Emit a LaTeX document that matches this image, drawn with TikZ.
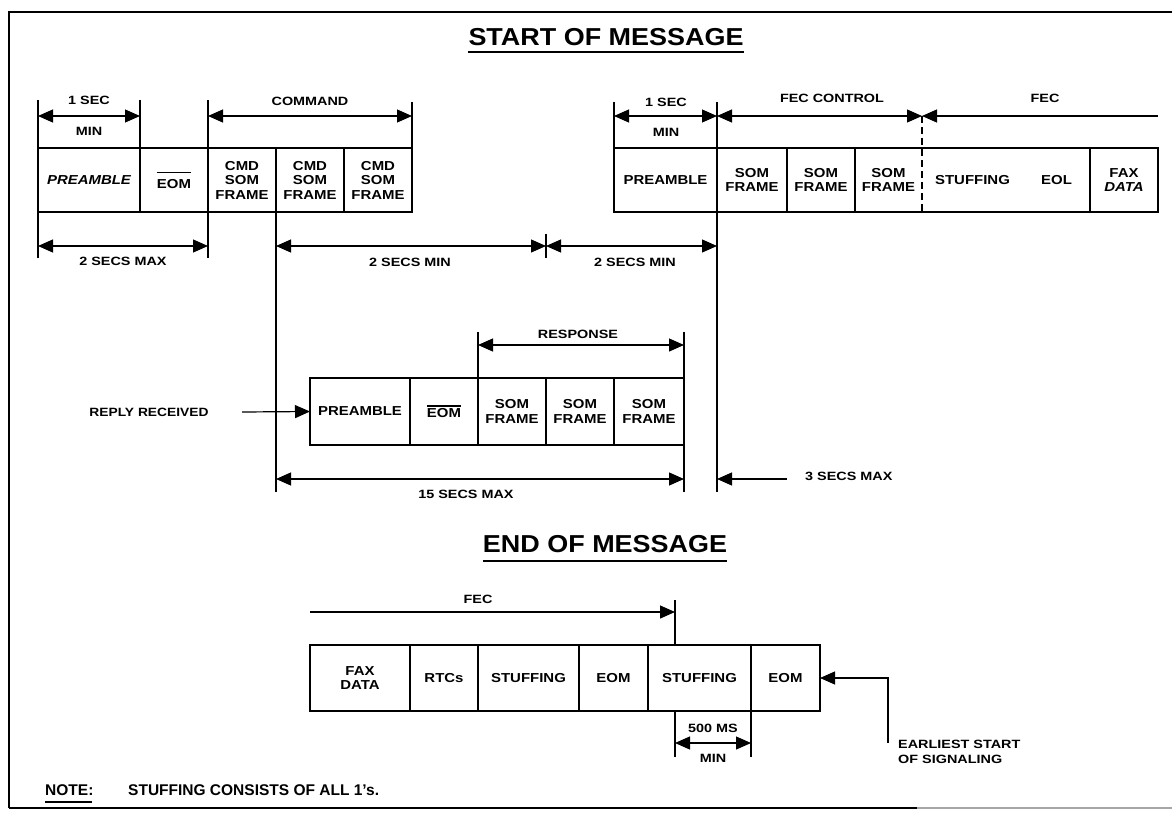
\documentclass[tikz,border=0pt]{standalone}
\usepackage{fontspec}
\setmainfont{Liberation Sans}
\newfontfamily\labf[FakeStretch=1.2]{Liberation Sans}
\newfontfamily\cellf[FakeStretch=1.15]{Liberation Sans}
\newfontfamily\titf[FakeStretch=1.1]{Liberation Sans}
\usetikzlibrary{arrows.meta,calc}
\newcommand\eombar[1]{\leavevmode\vbox{\hrule height 1.2pt\kern#1\hbox{EOM}}}
\begin{document}
\begin{tikzpicture}[x=1pt,y=-1pt,
 >={Triangle[length=15pt,width=13pt]},
 dim/.style={line width=1.2pt,<->},
 ln/.style={line width=1.2pt},
 box/.style={line width=1.4pt},
 cell/.style={inner sep=0pt, outer sep=0pt, anchor=north west, align=center, font=\cellf\bfseries\fontsize{13}{14.5}\selectfont},
 lbl/.style={inner sep=0pt, font=\labf\bfseries\fontsize{12}{14}\selectfont},
 titlestyle/.style={inner sep=0pt, font=\titf\bfseries\fontsize{24.5}{28}\selectfont},
]
\useasboundingbox (0,0) rectangle (1172,816);
% frame
\draw[line width=2.5pt] (9,808) -- (9,12) -- (1172,12);
\draw[line width=2.5pt] (9,808) -- (917,808);
\draw[line width=1.5pt, black!35] (917,808) -- (1172,808);

% titles
\node[titlestyle, anchor=base] (t1) at (606,46) {START OF MESSAGE};
\draw[line width=1.6pt] ([yshift=-6pt]t1.base west) -- ([yshift=-6pt]t1.base east);
\node[titlestyle, anchor=base] (t2) at (605,552) {END OF MESSAGE};
\draw[line width=1.6pt] ([yshift=-9pt]t2.base west) -- ([yshift=-9pt]t2.base east);

% level coordinates
\coordinate (yT) at (0,100);
\coordinate (yT2) at (0,102);
\coordinate (yA) at (0,116);
\coordinate (yB) at (0,246);
\coordinate (yBt) at (0,234);
\coordinate (yBe) at (0,258);
\coordinate (yE) at (0,492);
\coordinate (yRt) at (0,332);
\coordinate (yR) at (0,345);
\coordinate (yF) at (0,479);
\coordinate (yGt) at (0,600);
\coordinate (yG) at (0,612);
\coordinate (yH) at (0,743);
\coordinate (yHe) at (0,757);

% ---- row A (top left)
\node[cell, minimum width=102pt, minimum height=64pt] (a1) at (38,148) {\itshape PREAMBLE};
\node[cell, minimum width=68pt, minimum height=64pt] (a2) at (140,148) {\eombar{6pt}};
\node[cell, minimum width=68pt, minimum height=64pt] (a3) at (208,148) {CMD\\SOM\\FRAME};
\node[cell, minimum width=68pt, minimum height=64pt] (a4) at (276,148) {CMD\\SOM\\FRAME};
\node[cell, minimum width=68pt, minimum height=64pt] (a5) at (344,148) {CMD\\SOM\\FRAME};
\draw[box] (a1.north west) rectangle (a5.south east);
\foreach \n in {a1,a2,a3,a4} \draw[box] (\n.north east) -- (\n.south east);

% ---- row B (top right)
\node[cell, minimum width=103pt, minimum height=64pt] (b1) at (614,148) {PREAMBLE};
\node[cell, minimum width=70pt, minimum height=64pt] (b2) at (717,148) {SOM\\FRAME};
\node[cell, minimum width=68pt, minimum height=64pt] (b3) at (787,148) {SOM\\FRAME};
\node[cell, minimum width=67pt, minimum height=64pt] (b4) at (855,148) {SOM\\FRAME};
\node[cell, minimum width=101pt, minimum height=64pt] (b5) at (922,148) {STUFFING};
\node[cell, minimum width=67pt, minimum height=64pt] (b6) at (1023,148) {EOL};
\node[cell, minimum width=68pt, minimum height=64pt] (b7) at (1090,148) {FAX\\\itshape DATA};
\draw[box] (b1.north west) rectangle (b7.south east);
\foreach \n in {b1,b2,b3,b6} \draw[box] (\n.north east) -- (\n.south east);

% ---- row C (middle)
\node[cell, minimum width=100pt, minimum height=67pt] (c1) at (310,378) {PREAMBLE};
\node[cell, minimum width=68pt, minimum height=67pt] (c2) at (410,378) {\eombar{2pt}};
\node[cell, minimum width=68pt, minimum height=67pt] (c3) at (478,378) {SOM\\FRAME};
\node[cell, minimum width=68pt, minimum height=67pt] (c4) at (546,378) {SOM\\FRAME};
\node[cell, minimum width=70pt, minimum height=67pt] (c5) at (614,378) {SOM\\FRAME};
\draw[box] (c1.north west) rectangle (c5.south east);
\foreach \n in {c1,c2,c3,c4} \draw[box] (\n.north east) -- (\n.south east);

% ---- row D (bottom)
\node[cell, minimum width=100pt, minimum height=66pt] (d1) at (310,645) {FAX\\DATA};
\node[cell, minimum width=68pt, minimum height=66pt] (d2) at (410,645) {RTCs};
\node[cell, minimum width=101pt, minimum height=66pt] (d3) at (478,645) {STUFFING};
\node[cell, minimum width=69pt, minimum height=66pt] (d4) at (579,645) {EOM};
\node[cell, minimum width=103pt, minimum height=66pt] (d5) at (648,645) {STUFFING};
\node[cell, minimum width=69pt, minimum height=66pt] (d6) at (751,645) {EOM};
\draw[box] (d1.north west) rectangle (d6.south east);
\foreach \n in {d1,d2,d3,d4,d5} \draw[box] (\n.north east) -- (\n.south east);

% ---- top-left dimensions
\draw[ln] (a1.north west) -- (a1.north west |- yT);
\draw[ln] (a1.north east) -- (a1.north east |- yT);
\draw[ln] (a3.north west) -- (a3.north west |- yT);
\draw[ln] (a5.north east) -- (a5.north east |- yT2);
\draw[dim] (a1.north west |- yA) -- (a1.north east |- yA);
\draw[dim] (a3.north west |- yA) -- (a5.north east |- yA);
\node[lbl] (l1sec) at (89,100) {1 SEC};
\node[lbl] (l1min) at (89,131) {MIN};
\node[lbl] (lcmd) at (310,101) {COMMAND};

\draw[ln] (a1.south west) -- (a1.south west |- yBe);
\draw[ln] (a2.south east) -- (a2.south east |- yBe);
\draw[dim] (a1.south west |- yB) -- (a2.south east |- yB);
\node[lbl] (l2max) at (123,261) {2 SECS MAX};

\draw[ln] (a4.south west) -- (a4.south west |- yE);
\draw[ln] (c4.north west |- yBt) -- (c4.north west |- yBe);
\draw[dim] (a4.south west |- yB) -- (c4.north west |- yB);
\draw[dim] (c4.north west |- yB) -- (b1.north east |- yB);
\node[lbl] (l2minA) at (410,262) {2 SECS MIN};
\node[lbl] (l2minB) at (635,262) {2 SECS MIN};

% ---- top-right dimensions
\draw[ln] (b1.north west) -- (b1.north west |- yT2);
\draw[ln] (b1.north east |- yT2) -- (b1.north east |- yE);
\draw[dim] (b1.north west |- yA) -- (b1.north east |- yA);
\draw[dim] (b2.north west |- yA) -- (b4.north east |- yA);
\draw[ln, dash pattern=on 7pt off 4pt] (b5.north west |- yA) -- (b5.south west);
\draw[ln,<-] (b5.north west |- yA) -- (b7.north east |- yA);
\node[lbl] (r1sec) at (666,102) {1 SEC};
\node[lbl] (r1min) at (666,132) {MIN};
\node[lbl] (lfecc) at (832,98) {FEC CONTROL};
\node[lbl] (lfec) at (1045,98) {FEC};

% ---- middle dimensions
\draw[ln] (c3.north west) -- (c3.north west |- yRt);
\draw[ln] (c5.north east |- yRt) -- (c5.north east |- yE);
\draw[dim] (c3.north west |- yR) -- (c5.north east |- yR);
\node[lbl] (lresp) at (578,334) {RESPONSE};

\node[cell, anchor=center, font=\cellf\bfseries\fontsize{12}{14}\selectfont] (rr) at (149,412) {REPLY RECEIVED};
\coordinate (rrs) at (242,412);
\draw[ln,->] (rrs) -- (c1.west);

\draw[dim] (a4.south west |- yF) -- (c5.north east |- yF);
\node[lbl] (l15) at (466,494) {15 SECS MAX};
\coordinate (s3) at (787,479);
\draw[ln,->] (s3) -- (b1.north east |- yF);
\node[lbl, anchor=west] (l3) at (805,476) {3 SECS MAX};

% ---- bottom dimensions
\coordinate (fecend) at (675,612);
\draw[ln,->] (d1.north west |- yG) -- (fecend);
\draw[ln] (fecend |- yGt) -- (fecend |- d5.north);
\node[lbl] (lfec2) at (478,599) {FEC};

\draw[ln] (fecend |- d5.south) -- (fecend |- yHe);
\draw[ln] (d5.south east) -- (d5.south east |- yHe);
\draw[dim] (fecend |- yH) -- (d5.south east |- yH);
\node[lbl] (l500) at (713,728) {500 MS};
\node[lbl] (l500min) at (713,758) {MIN};

\coordinate (es) at (888,678);
\draw[ln,->] (es |- yH) -- (es) -- (d6.east);
\node[lbl, anchor=north west, align=left, font=\labf\bfseries\fontsize{12}{15}\selectfont] (lear) at (898,740) {EARLIEST START\\OF SIGNALING};

% ---- note
\node[inner sep=0pt, anchor=base west, font=\bfseries\fontsize{15.5}{18}\selectfont] (note) at (45,795) {NOTE:};
\draw[line width=1.4pt] ([yshift=-7pt]note.base west) -- ++(47pt,0);
\node[inner sep=0pt, anchor=base west, font=\bfseries\fontsize{15.5}{18}\selectfont] (notetxt) at (128,795) {STUFFING CONSISTS OF ALL 1's.};
\end{tikzpicture}
\end{document}
